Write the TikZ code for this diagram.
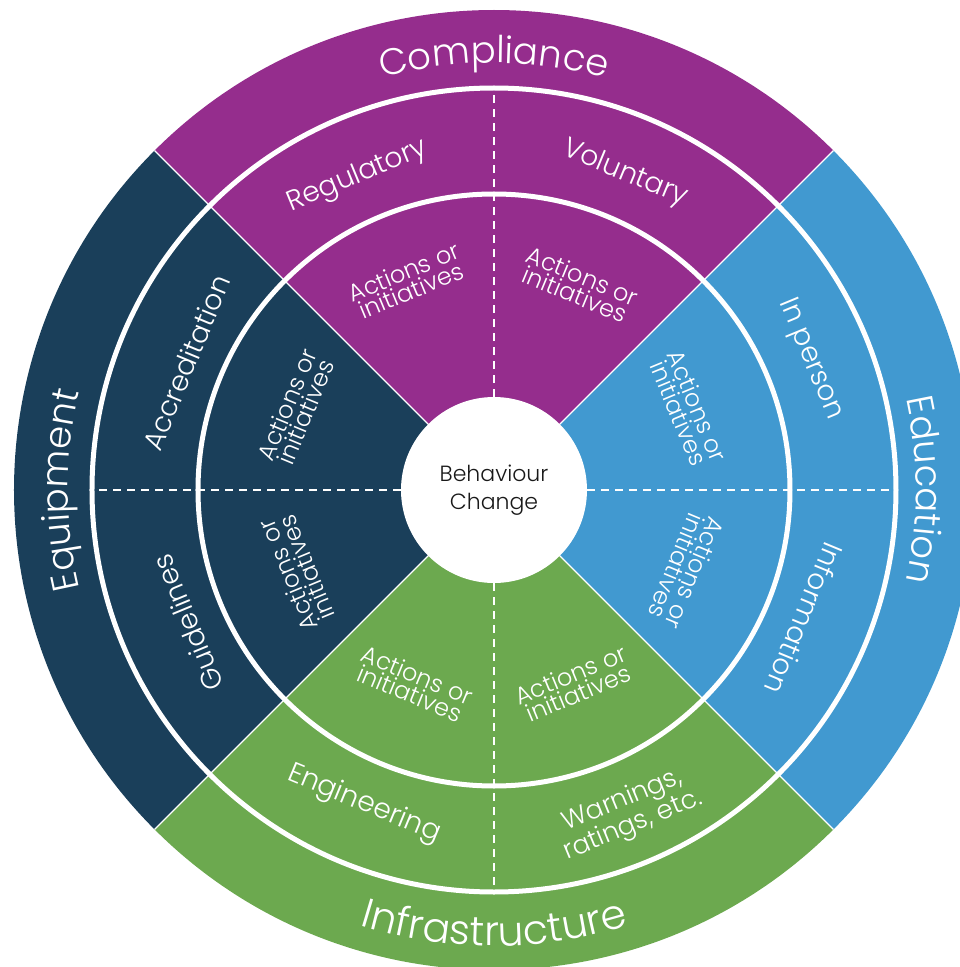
\documentclass[tikz,border=0pt]{standalone}
\usepackage{fontspec}
\setmainfont{Poppins Light}
\usepackage{tikz}
\usetikzlibrary{decorations.text}
\usepackage{xcolor}

\definecolor{complcol}{HTML}{952D8D}
\definecolor{educcol}{HTML}{4199D0}
\definecolor{infracol}{HTML}{6CA94F}
\definecolor{equipcol}{HTML}{1A3F5A}
\newcommand\wheelbig{\fontsize{37}{40}\selectfont}
\newcommand\wheelhuge{\fontsize{41}{44}\selectfont}

\tikzset{
  midlabel/.style={white, font=\fontsize{28}{30}\selectfont},
  warnlabel/.style={white, align=center, font=\fontsize{26}{27}\selectfont},
  actlabel/.style={white, align=center, font=\fontsize{24}{20}\selectfont},
  ringline/.style={white, line width=5},
  splitline/.style={white, line width=1.2},
  halfline/.style={white, line width=1.6, dash pattern=on 8 off 6},
  outertext/.style={decorate, decoration={text along path, text align=center,
      text color=white, text={|\wheelbig|#1}}}
}

\begin{document}
\begin{tikzpicture}[x=1pt,y=1pt]
\useasboundingbox (-494,-477) rectangle (466,490);
\clip (-494,-477) rectangle (466,490);
% the four sectors
\fill[complcol] (0,0) -- (45:480) arc (45:135:480) -- cycle;
\fill[equipcol] (0,0) -- (135:480) arc (135:225:480) -- cycle;
\fill[infracol] (0,0) -- (225:480) arc (225:315:480) -- cycle;
\fill[educcol] (0,0) -- (-45:480) arc (-45:45:480) -- cycle;
% splits
\foreach \a in {0,90,180,270}
  \draw[halfline] (\a:93) -- (\a:400);
\foreach \a in {45,135,225,315}
  \draw[splitline] (\a:93) -- (\a:480);
\draw[ringline] (0,0) circle (296);
\draw[ringline] (0,0) circle (402);
% centre
\fill[white] (0,0) circle (93);
\node[align=center, font=\fontsize{22}{28}\selectfont, text=black!90] (core) at (0,0) {Behaviour\\Change};
% outer ring
\path[outertext=Compliance] (125:427) arc (125:55:427);
\path[outertext=Education] (35:422) arc (35:-35:422);
\path[outertext=Equipment] (215:426) arc (215:145:426);
\path[decorate, decoration={text along path, text align=center, text color=white,
    text={|\wheelhuge|Infrastructure}}] (232:456) arc (232:308:456);
% middle ring
\node[midlabel, rotate=22.5] (reg) at (113.5:342) {Regulatory};
\node[midlabel, rotate=-22.5] (vol) at (67.5:342) {Voluntary};
\node[midlabel, rotate=-67.5] (pers) at (22.5:342) {In person};
\node[midlabel, rotate=-112.5] (info) at (-22.5:336) {Information};
\node[warnlabel, rotate=22.5] (warn) at (-67.5:350) {Warnings,\\ratings, etc.};
\node[midlabel, rotate=-22.5] (eng) at (-112.5:340) {Engineering};
\node[midlabel, rotate=112.5] (guid) at (203.5:334) {Guidelines};
\node[midlabel, rotate=67.5] (accr) at (157.5:333) {Accreditation};
% inner ring
\foreach \ang/\rot/\rad [count=\i] in {112.5/22.5/226, 67.5/-22.5/222, 22.5/-67.5/210,
    -22.5/-112.5/208, -67.5/22.5/210, -112.5/-22.5/210, 202.5/112.5/213, 157.5/67.5/214}
  \node[actlabel, rotate=\rot] (act\i) at (\ang:\rad) {Actions or\\initiatives};
\end{tikzpicture}
\end{document}
